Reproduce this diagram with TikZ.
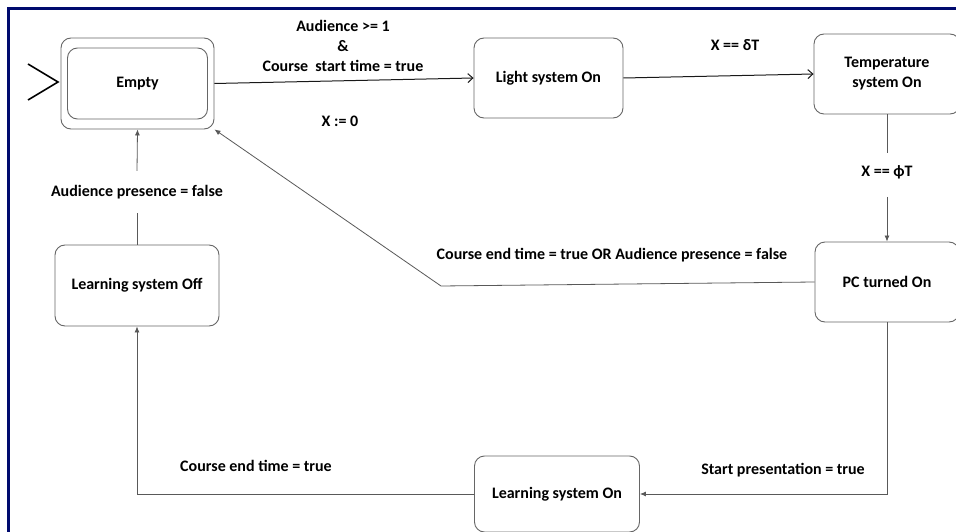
\documentclass[tikz,border=0pt]{standalone}
\usepackage{fontspec}
\setmainfont{Carlito}
\usetikzlibrary{arrows.meta}
\definecolor{framecol}{RGB}{0,10,110}
\begin{document}
\begin{tikzpicture}[
  x=1pt, y=-1pt,
  every node/.style={align=center, font=\fontsize{16}{20}\selectfont\bfseries, inner sep=2pt},
  state/.style={draw=black!60, rounded corners=10pt, line width=0.9pt},
  trans/.style={draw=black!65, line width=0.8pt, -{Latex[length=6pt,width=5pt]}},
  guardarrow/.style={draw=black!90, line width=1pt, -{Straight Barb[length=5pt,width=9pt]}},
  link/.style={draw=black!65, line width=0.8pt}
]
\useasboundingbox (0,0) rectangle (956,532);
\fill[white] (0,0) rectangle (956,532);
\draw[framecol, line width=3pt] (8.5,540) -- (8.5,8.5) -- (960,8.5);

\node[state, minimum width=153pt, minimum height=91pt] (empty) at (137.5,83.5) {};
\node[state, minimum width=140pt, minimum height=71pt] (emptyin) at (137.5,83.5) {Empty};
\node[state, minimum width=149pt, minimum height=80pt] (light) at (548.5,78) {Light system On};
\node[state, minimum width=146pt, minimum height=80pt] (temp) at (887,74) {Temperature\\system On};
\node[state, minimum width=144pt, minimum height=80pt] (pc) at (887,282) {PC turned On};
\node[state, minimum width=165pt, minimum height=76pt] (learnon) at (557,494) {Learning system On};
\node[state, minimum width=164pt, minimum height=81pt] (learnoff) at (137,285.5) {Learning system Off};

\coordinate (inittop) at (28,64);
\coordinate (initbot) at (28,100);
\coordinate (inittip) at (58,82);
\draw[line width=1.6pt] (inittop) -- (inittip) -- (initbot);

\node (guard) at (343,46) {Audience >= 1\\\&\\Course\ \ start time = true};
\node (reset) at (340,121) {X := 0};
\node (delta) at (735,45) {X == δT};
\node[inner ysep=12pt] (phi) at (887,172) {X == ϕT};
\node (endcond) at (612,255) {Course end time = true OR Audience presence = false};
\node (startpres) at (783,470) {Start presentation = true};
\node (endtime) at (256,466) {Course end time = true};
\node[inner ysep=14pt] (absent) at (137,192) {Audience presence = false};

\draw[guardarrow] (empty.east) -- (light.west);
\draw[guardarrow] (light.east) -- (temp.west);
\draw[link] (temp.south) -- (phi.north);
\draw[trans, shorten <=6pt] (phi.south) -- (pc.north);
\coordinate (bend) at (441,286);
\draw[trans] (pc.west) -- (bend) -- (empty.south east);
\draw[trans] (pc.south) |- (learnon.east);
\draw[trans] (learnon.west) -| (learnoff.south);
\draw[link] (learnoff.north) -- (absent.south);
\draw[trans] (absent.north) -- (empty.south);
\end{tikzpicture}
\end{document}
